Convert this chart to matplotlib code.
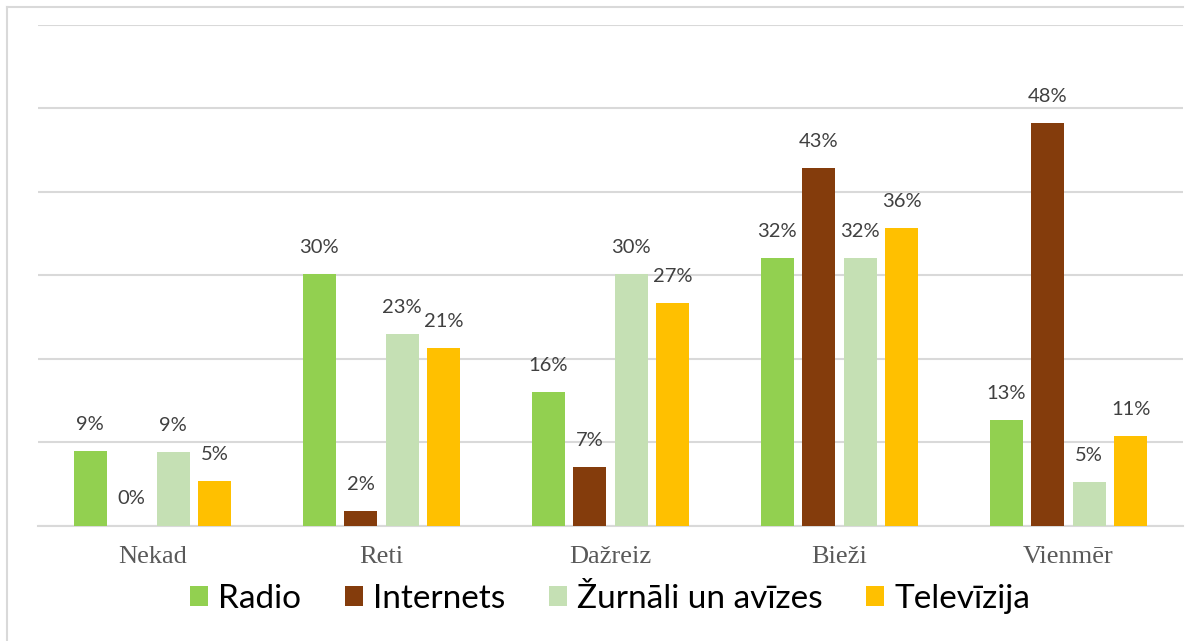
import numpy as np
import matplotlib
matplotlib.use('Agg')
import matplotlib.pyplot as plt
from matplotlib.lines import Line2D
from matplotlib.patches import Patch

# data (percent)
categories = ['Nekad', 'Reti', 'Dažreiz', 'Bieži', 'Vienmēr']
series_names = ['Radio', 'Internets', 'Žurnāli un avīzes', 'Televīzija']
radio = [8.9, 30.2, 16.0, 32.1, 12.6]
internets = [0.0, 1.7, 7.0, 42.9, 48.3]
zurnali = [8.8, 23.0, 30.2, 32.1, 5.2]
televizija = [5.3, 21.3, 26.7, 35.7, 10.7]
colors = ['#92D050', '#843C0C', '#C5E0B4', '#FFC000']

W, H = 1188, 641
fig = plt.figure(figsize=(W / 100, H / 100), dpi=100)
ax = fig.add_axes([38 / W, 115.5 / H, (1183 - 38) / W, (616 - 115.5) / H])

x = np.arange(len(categories))
step = 0.181
width = 0.144
all_series = [radio, internets, zurnali, televizija]
for i, vals in enumerate(all_series):
    pos = x + (i - 1.5) * step
    bars = ax.bar(pos, vals, width, color=colors[i], label=series_names[i], zorder=3)
    for b, v in zip(bars, vals):
        ax.annotate('%d%%' % int(v + 0.5), (b.get_x() + b.get_width() / 2, v),
                    xytext=(0, 13), textcoords='offset points', ha='center', va='bottom',
                    fontsize=14.5, color='#404040', family='Lato')

ax.set_ylim(0, 60)
ax.set_xlim(-0.5, len(categories) - 0.5)
ax.set_yticks(np.arange(0, 61, 10))
ax.yaxis.grid(True, color='#D9D9D9', linewidth=1.5, zorder=0)
ax.set_axisbelow(True)
ax.tick_params(axis='y', left=False, labelleft=False)
ax.tick_params(axis='x', length=0, pad=15)
ax.set_xticks(x)
ax.set_xticklabels(categories, family='Liberation Serif', fontsize=19, color='#595959')
for s in ['top', 'right', 'left']:
    ax.spines[s].set_visible(False)
ax.spines['bottom'].set_color('#D9D9D9')
ax.spines['bottom'].set_linewidth(1.5)

handles = [Patch(facecolor=c, edgecolor='none') for c in colors]
fig.legend(handles, series_names, loc='center', bbox_to_anchor=(610 / W, 1 - 599 / H),
           ncol=4, frameon=False, prop={'family': 'Lato', 'size': 24},
           handlelength=0.55, handleheight=0.55, handletextpad=0.3, columnspacing=1.3)

# outer chart border
fig.add_artist(Line2D([7 / W, 1183 / W], [1 - 7 / H, 1 - 7 / H], color='#D9D9D9', linewidth=1.5))
fig.add_artist(Line2D([7 / W, 7 / W], [0, 1 - 7 / H], color='#D9D9D9', linewidth=1.5))

fig.savefig('out.png', dpi=100)
